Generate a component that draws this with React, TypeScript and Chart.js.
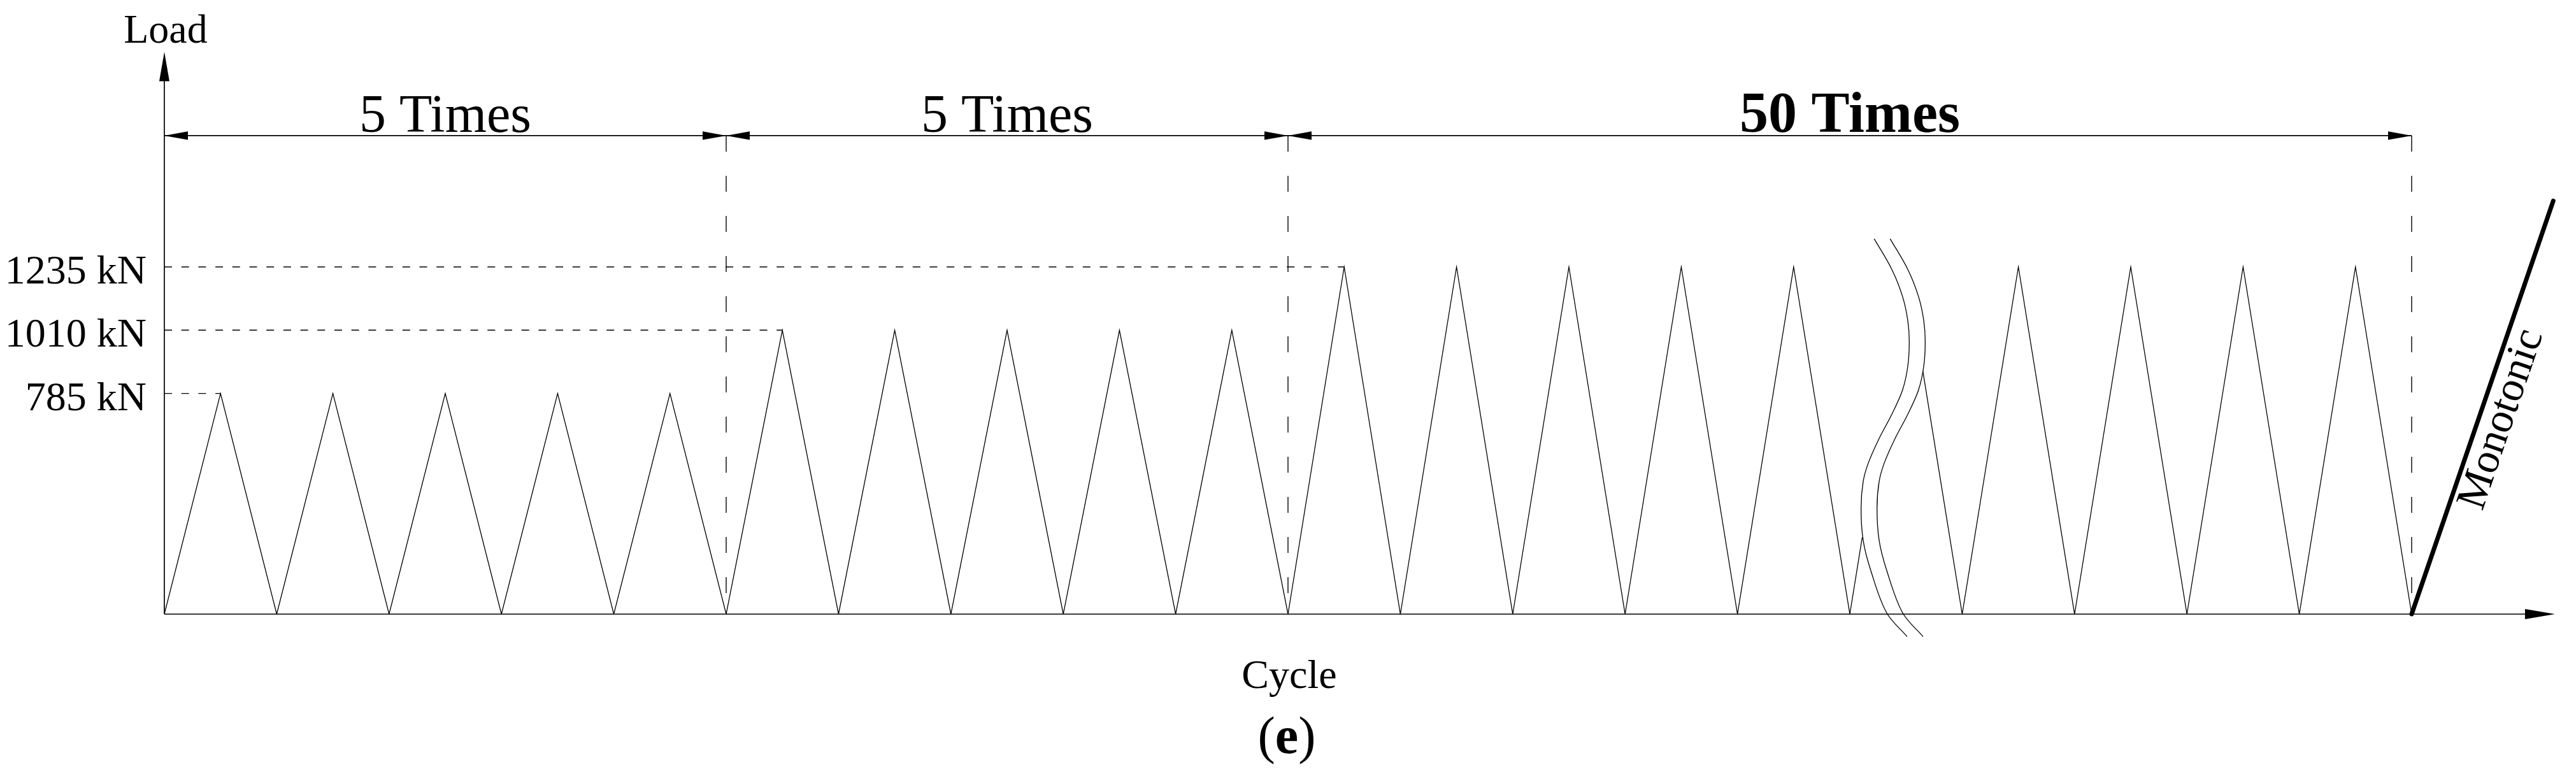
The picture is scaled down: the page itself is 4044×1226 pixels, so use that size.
import React, { useEffect, useRef } from "react";
import { Chart, registerables } from "chart.js";

Chart.register(...registerables);

// ---------- data ----------
// loading protocol: cycle position (x) and load in kN (y); null = break in the drawing
const CYCLE_X = [
  0, 0.5, 1, 1.5, 2, 2.5, 3, 3.5, 4, 4.5,
  5, 5.5, 6, 6.5, 7, 7.5, 8, 8.5, 9, 9.5,
  10, 10.5, 11, 11.5, 12, 12.5, 13, 13.5, 14, 14.5,
  15, 15.11, 15.4, 15.65,
  16, 16.5, 17, 17.5, 18, 18.5, 19, 19.5, 20,
];
const LOAD_KN: (number | null)[] = [
  0, 785, 0, 785, 0, 785, 0, 785, 0, 785,
  0, 1010, 0, 1010, 0, 1010, 0, 1010, 0, 1010,
  0, 1235, 0, 1235, 0, 1235, 0, 1235, 0, 1235,
  0, 272, null, 864,
  0, 1235, 0, 1235, 0, 1235, 0, 1235, 0,
];

// monotonic loading after the cyclic part
const MONO_X = [20, 21.26];
const MONO_KN = [0, 1470];

// load levels (tick labels)
const LEVEL_KN = [785, 1010, 1235];
const LEVEL_LABELS = ["785 kN", "1010 kN", "1235 kN"];
const LEVEL_FIRST_PEAK_X = [0.5, 5.5, 10.5];

// groups of repetitions
const GROUP_BOUNDS = [0, 5, 10, 20];
const GROUP_LABELS = ["5 Times", "5 Times", "50 Times"];
const GROUP_BOLD = [false, false, true];

// break symbol (two S-shaped curves)
const BREAK_LEFT_X = [15.217, 15.374, 15.469, 15.516, 15.529, 15.516, 15.469, 15.374, 15.261, 15.166, 15.119, 15.1, 15.119, 15.185, 15.327, 15.51];
const BREAK_RIGHT_X = [15.359, 15.516, 15.611, 15.658, 15.671, 15.658, 15.611, 15.516, 15.403, 15.308, 15.261, 15.242, 15.261, 15.327, 15.469, 15.652];
const BREAK_KN = [1335, 1226, 1130, 1044, 968, 882, 797, 711, 625, 539, 472, 377, 262, 157, 5, -80];

// axis texts
const Y_AXIS_TITLE = "Load";
const X_AXIS_TITLE = "Cycle";
const PANEL_LABEL = "e";
const MONO_LABEL = "Monotonic";

// ---------- layout ----------
const W = 4044;
const H = 1226;
const ORIGIN_X = 258;
const ORIGIN_Y = 964;
const PX_PER_CYCLE = 176.4;
const PX_PER_KN = 0.4413;
const X_MAX = 21.4;
const Y_MAX = 2000;
const AXIS_X_END = 21.275;
const DIM_KN = 1702;
const FONT = '"Liberation Serif", "Times New Roman", serif';

function arrow(ctx: CanvasRenderingContext2D, tx: number, ty: number, ux: number, uy: number, len: number, hw: number) {
  const bx = tx - ux * len;
  const by = ty - uy * len;
  const nx = -uy;
  const ny = ux;
  ctx.beginPath();
  ctx.moveTo(tx, ty);
  ctx.lineTo(bx + nx * hw, by + ny * hw);
  ctx.lineTo(bx - nx * hw, by - ny * hw);
  ctx.closePath();
  ctx.fill();
}

const annotPlugin = {
  id: "annot",
  beforeDraw(chart: any) {
    const ctx = chart.ctx as CanvasRenderingContext2D;
    ctx.save();
    ctx.fillStyle = "#fff";
    ctx.fillRect(0, 0, chart.width, chart.height);
    ctx.restore();
  },
  afterDatasetsDraw(chart: any) {
    const ctx = chart.ctx as CanvasRenderingContext2D;
    const xs = chart.scales.x;
    const ys = chart.scales.y;
    const px = (c: number) => xs.getPixelForValue(c);
    const py = (v: number) => ys.getPixelForValue(v);
    ctx.save();
    ctx.fillStyle = "#000";
    ctx.strokeStyle = "#000";
    ctx.setLineDash([]);

    // axes
    ctx.lineWidth = 1.7;
    ctx.beginPath();
    ctx.moveTo(px(0), py(0));
    ctx.lineTo(px(0), py(Y_MAX) + 20);
    ctx.moveTo(px(0), py(0));
    ctx.lineTo(px(AXIS_X_END) - 20, py(0));
    ctx.stroke();
    arrow(ctx, px(0), py(Y_MAX), 0, -1, 46, 8);
    arrow(ctx, px(AXIS_X_END), py(0), 1, 0, 47, 8);

    // dimension line
    const dy = py(DIM_KN);
    ctx.lineWidth = 1.7;
    ctx.beginPath();
    ctx.moveTo(px(GROUP_BOUNDS[0]), dy);
    ctx.lineTo(px(GROUP_BOUNDS[GROUP_BOUNDS.length - 1]), dy);
    ctx.stroke();
    ctx.textAlign = "center";
    ctx.textBaseline = "alphabetic";
    for (let i = 0; i < GROUP_LABELS.length; i++) {
      const a = px(GROUP_BOUNDS[i]);
      const b = px(GROUP_BOUNDS[i + 1]);
      arrow(ctx, a, dy, -1, 0, 37, 6.7);
      arrow(ctx, b, dy, 1, 0, 37, 6.7);
      ctx.font = (GROUP_BOLD[i] ? "bold 90px " : "84px ") + FONT;
      ctx.fillText(GROUP_LABELS[i], (a + b) / 2, dy - 6);
    }

    // tick labels
    ctx.font = "64px " + FONT;
    ctx.textAlign = "right";
    for (let i = 0; i < LEVEL_KN.length; i++) {
      ctx.fillText(LEVEL_LABELS[i], px(0) - 28, py(LEVEL_KN[i]) + 26);
    }

    // axis titles
    ctx.textAlign = "center";
    ctx.font = "64px " + FONT;
    ctx.fillText(Y_AXIS_TITLE, px(0) + 2, 67);
    ctx.fillText(X_AXIS_TITLE, 2024, 1080);

    // panel label (e)
    ctx.font = "82px " + FONT;
    const wOpen = ctx.measureText("(").width;
    const wClose = ctx.measureText(")").width;
    ctx.font = "bold 82px " + FONT;
    const wE = ctx.measureText(PANEL_LABEL).width;
    const total = wOpen + wE + wClose;
    let x = 2020 - total / 2;
    ctx.textAlign = "left";
    ctx.font = "82px " + FONT;
    ctx.fillText("(", x, 1182);
    x += wOpen;
    ctx.font = "bold 82px " + FONT;
    ctx.fillText(PANEL_LABEL, x, 1182);
    x += wE;
    ctx.font = "82px " + FONT;
    ctx.fillText(")", x, 1182);

    // monotonic label along the line
    const x0 = px(MONO_X[0]);
    const y0 = py(MONO_KN[0]);
    const x1 = px(MONO_X[1]);
    const y1 = py(MONO_KN[1]);
    const len = Math.hypot(x1 - x0, y1 - y0);
    const ux = (x1 - x0) / len;
    const uy = (y1 - y0) / len;
    const nx = -uy;
    const ny = ux;
    const mx = (x0 + x1) / 2 + nx * 35 - ux * 8;
    const my = (y0 + y1) / 2 + ny * 35 - uy * 8;
    ctx.translate(mx, my);
    ctx.rotate(Math.atan2(y1 - y0, x1 - x0));
    ctx.font = "67px " + FONT;
    ctx.textAlign = "center";
    ctx.textBaseline = "middle";
    ctx.fillText(MONO_LABEL, 0, 0);
    ctx.restore();
  },
};

export default function App() {
  const ref = useRef<HTMLCanvasElement | null>(null);
  useEffect(() => {
    if (!ref.current) return;
    const tri = CYCLE_X.map((c, i) => ({ x: c, y: LOAD_KN[i] }));
    const mono = MONO_X.map((c, i) => ({ x: c, y: MONO_KN[i] }));
    const brL = BREAK_LEFT_X.map((c, i) => ({ x: c, y: BREAK_KN[i] }));
    const brR = BREAK_RIGHT_X.map((c, i) => ({ x: c, y: BREAK_KN[i] }));
    const base = { pointRadius: 0, borderColor: "#000", backgroundColor: "#000", fill: false };
    const levelSets = LEVEL_KN.map((v, i) => ({
      ...base,
      data: [{ x: 0, y: v }, { x: LEVEL_FIRST_PEAK_X[i], y: v }],
      borderWidth: 1.4,
      borderDash: [12, 14.7],
      tension: 0,
    }));
    const boundSets = GROUP_BOUNDS.slice(1).map((c) => ({
      ...base,
      data: [{ x: c, y: DIM_KN }, { x: c, y: 0 }],
      borderWidth: 1.4,
      borderDash: [25, 38],
      tension: 0,
    }));
    const chart = new Chart(ref.current, {
      type: "line",
      data: {
        datasets: [
          ...levelSets,
          ...boundSets,
          { ...base, data: tri, borderWidth: 1.3, tension: 0, spanGaps: false },
          { ...base, data: brL, borderWidth: 1.3, tension: 0.35, clip: false },
          { ...base, data: brR, borderWidth: 1.3, tension: 0.35, clip: false },
          { ...base, data: mono, borderWidth: 7, borderCapStyle: "round", tension: 0, clip: false },
        ] as any,
      },
      options: {
        responsive: false,
        devicePixelRatio: 1,
        animation: false,
        events: [],
        layout: {
          padding: {
            left: ORIGIN_X,
            right: W - ORIGIN_X - X_MAX * PX_PER_CYCLE,
            top: ORIGIN_Y - Y_MAX * PX_PER_KN,
            bottom: H - ORIGIN_Y,
          },
        },
        scales: {
          x: { type: "linear", min: 0, max: X_MAX, display: false },
          y: { type: "linear", min: 0, max: Y_MAX, display: false },
        },
        plugins: { legend: { display: false }, tooltip: { enabled: false } },
      },
      plugins: [annotPlugin],
    });
    return () => chart.destroy();
  }, []);
  return (
    <div style={{ position: "fixed", left: 0, top: 0, width: W, height: H, background: "#fff", overflow: "hidden" }}>
      <canvas ref={ref} width={W} height={H} style={{ display: "block", width: W, height: H }} />
    </div>
  );
}
